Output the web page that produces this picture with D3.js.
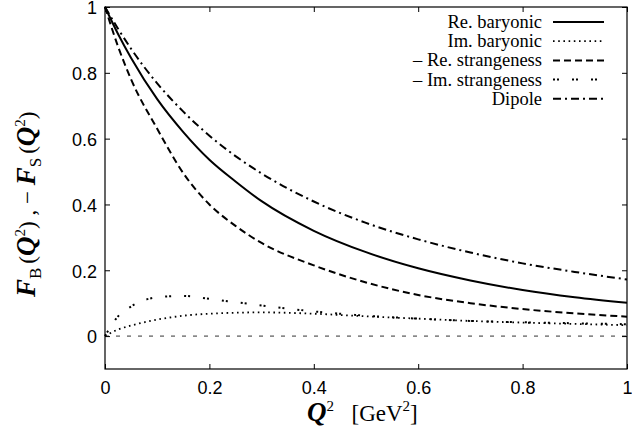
<!DOCTYPE html>
<html>
<head>
<meta charset="utf-8">
<script src="https://cdn.jsdelivr.net/npm/d3@7"></script>
<style>
  body { margin: 0; background: #fff; }
  svg { display: block; }
</style>
</head>
<body>
<script>
// values
var q2          = [0, 0.025, 0.05, 0.1, 0.15, 0.2, 0.25, 0.3, 0.4, 0.5, 0.6, 0.7, 0.8, 0.9, 1.0];
var reBaryonic  = [1, 0.918, 0.845, 0.72, 0.62, 0.536, 0.47, 0.41, 0.32, 0.255, 0.206, 0.169, 0.140, 0.118, 0.101];
var imBaryonic  = [0, 0.02, 0.032, 0.05, 0.062, 0.068, 0.071, 0.072, 0.068, 0.06, 0.053, 0.046, 0.041, 0.037, 0.033];
var reStrange   = [1, 0.88, 0.78, 0.63, 0.495, 0.40, 0.335, 0.283, 0.215, 0.163, 0.125, 0.10, 0.082, 0.069, 0.059];
var imStrange   = [0, 0.06, 0.09, 0.118, 0.122, 0.113, 0.103, 0.093, 0.075, 0.062, 0.053, 0.046, 0.042, 0.039, 0.036];
var dipole      = [1, 0.934, 0.873, 0.768, 0.682, 0.609, 0.547, 0.494, 0.409, 0.344, 0.294, 0.254, 0.221, 0.195, 0.172];

var xTicks = [0, 0.2, 0.4, 0.6, 0.8, 1];
var yTicks = [0, 0.2, 0.4, 0.6, 0.8, 1];

var series = [
  { name: "Re. baryonic",           values: reBaryonic, dash: null,       width: 2 },
  { name: "Im. baryonic",           values: imBaryonic, dash: "1.6,3.6",  width: 1.8 },
  { name: "\u2013 Re. strangeness", values: reStrange,  dash: "7,4",      width: 2 },
  { name: "\u2013 Im. strangeness", values: imStrange,  dash: "2,2,2,13", width: 2 },
  { name: "Dipole",                 values: dipole,     dash: "8,4,2,4",  width: 2 }
];

var W = 632, H = 436;
var pLeft = 105, pRight = 627, pTop = 7, pBottom = 369;

var svg = d3.select("body")
    .append("svg")
    .attr("width", W)
    .attr("height", H);

var x = d3.scaleLinear().domain([0, 1]).range([pLeft, pRight]);
var y = d3.scaleLinear().domain([-0.1, 1]).range([pBottom, pTop]);

// zero line
svg.append("line")
    .attr("x1", x(0)).attr("x2", x(1))
    .attr("y1", y(0)).attr("y2", y(0))
    .attr("stroke", "#333")
    .attr("stroke-width", 1)
    .attr("stroke-dasharray", "4,7");

// curves
var line = d3.line()
    .x(function(d) { return x(d[0]); })
    .y(function(d) { return y(d[1]); })
    .curve(d3.curveMonotoneX);

series.forEach(function(s) {
  svg.append("path")
      .datum(q2.map(function(q, i) { return [q, s.values[i]]; }))
      .attr("fill", "none")
      .attr("stroke", "#000")
      .attr("stroke-width", s.width)
      .attr("stroke-dasharray", s.dash)
      .attr("d", line);
});

// axes with inward ticks, mirrored
var tickFont = "'Liberation Sans', Arial, sans-serif";

svg.append("g")
    .attr("transform", "translate(0," + pBottom + ")")
    .call(d3.axisBottom(x).tickValues(xTicks).tickSizeInner(-5).tickSizeOuter(0).tickPadding(12).tickFormat(d3.format("")))
    .call(function(g) { g.select(".domain").remove(); })
    .selectAll("text")
    .attr("font-family", tickFont)
    .attr("font-size", "18px")
    .attr("fill", "#000");

svg.append("g")
    .attr("transform", "translate(" + pLeft + ",0)")
    .call(d3.axisLeft(y).tickValues(yTicks).tickSizeInner(-5).tickSizeOuter(0).tickPadding(8).tickFormat(d3.format("")))
    .call(function(g) { g.select(".domain").remove(); })
    .selectAll("text")
    .attr("dy", "0.38em")
    .attr("font-family", tickFont)
    .attr("font-size", "18px")
    .attr("fill", "#000");

svg.append("g")
    .attr("transform", "translate(0," + pTop + ")")
    .call(d3.axisTop(x).tickValues(xTicks).tickSizeInner(-5).tickSizeOuter(0).tickFormat(""))
    .call(function(g) { g.select(".domain").remove(); });

svg.append("g")
    .attr("transform", "translate(" + pRight + ",0)")
    .call(d3.axisRight(y).tickValues(yTicks).tickSizeInner(-5).tickSizeOuter(0).tickFormat(""))
    .call(function(g) { g.select(".domain").remove(); });

// frame
svg.append("rect")
    .attr("x", pLeft).attr("y", pTop)
    .attr("width", pRight - pLeft).attr("height", pBottom - pTop)
    .attr("fill", "none")
    .attr("stroke", "#000")
    .attr("stroke-width", 1.2);

// legend
var serif = "'Liberation Serif', 'Times New Roman', serif";
var legend = svg.append("g").attr("font-family", serif).attr("font-size", "18.5px");
series.forEach(function(s, i) {
  var ly = 22 + i * 19.2;
  legend.append("text")
      .attr("x", 542).attr("y", ly + 6)
      .attr("text-anchor", "end")
      .text(s.name);
  legend.append("line")
      .attr("x1", 553).attr("x2", 604)
      .attr("y1", ly).attr("y2", ly)
      .attr("stroke", "#000")
      .attr("stroke-width", s.width)
      .attr("stroke-dasharray", s.dash);
});

// x axis label
var xl = svg.append("text")
    .attr("x", 307).attr("y", 421)
    .attr("font-family", serif)
    .attr("font-size", "23px");
xl.append("tspan").attr("font-weight", "bold").attr("font-style", "italic").attr("font-size", "27px").text("Q");
xl.append("tspan").attr("font-size", "15px").attr("dy", -10).text("2");
xl.append("tspan").attr("dy", 10).attr("dx", 6).text("\u2002[GeV");
xl.append("tspan").attr("font-size", "15px").attr("dy", -10).text("2");
xl.append("tspan").attr("dy", 10).text("]");

// y axis label
var yl = svg.append("text")
    .attr("transform", "translate(35,297) rotate(-90)")
    .attr("font-family", serif)
    .attr("font-size", "23px");
function fq(t, sub) {
  t.append("tspan").attr("font-weight", "bold").attr("font-style", "italic").attr("font-size", "27px").text("F");
  t.append("tspan").attr("font-size", "17px").attr("dy", 6).text(sub);
  t.append("tspan").attr("dy", -6).attr("dx", 4).text("(");
  t.append("tspan").attr("font-weight", "bold").attr("font-style", "italic").attr("font-size", "27px").text("Q");
  t.append("tspan").attr("font-size", "15px").attr("dy", -10).text("2");
  t.append("tspan").attr("dy", 10).text(")");
}
fq(yl, "B");
yl.append("tspan").text(" ,  \u2212 ");
fq(yl, "S");
</script>
</body>
</html>
